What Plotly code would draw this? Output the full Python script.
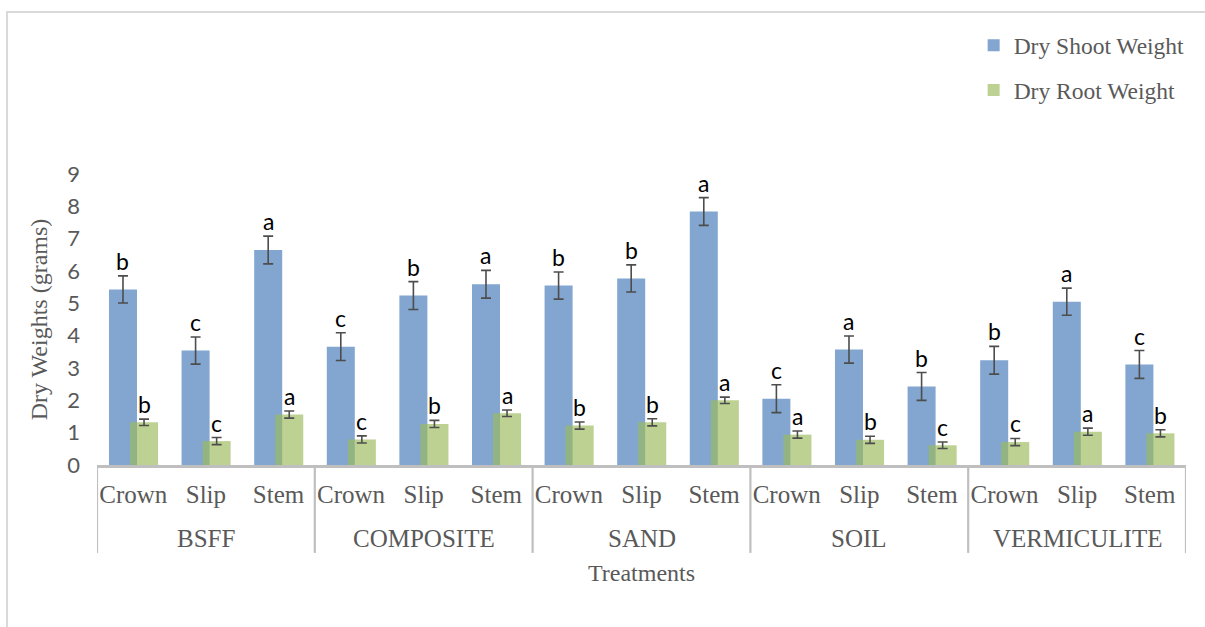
import plotly.graph_objects as go

# Treatment groups (media) and propagule types
media = ["BSFF", "COMPOSITE", "SAND", "SOIL", "VERMICULITE"]
types = ["Crown", "Slip", "Stem"]

# Mean dry weights (grams), in media x type order
shoot = [5.43, 3.54, 6.65,
         3.66, 5.24, 5.59,
         5.55, 5.77, 7.84,
         2.05, 3.57, 2.43,
         3.24, 5.05, 3.11]
root = [1.32, 0.74, 1.56,
        0.79, 1.27, 1.60,
        1.22, 1.32, 2.00,
        0.94, 0.78, 0.61,
        0.71, 1.03, 0.98]

# Error bar half-lengths
shoot_err = [0.42, 0.42, 0.43,
             0.43, 0.43, 0.43,
             0.42, 0.42, 0.43,
             0.43, 0.42, 0.43,
             0.43, 0.42, 0.43]
root_err = [0.10, 0.11, 0.11,
            0.11, 0.11, 0.10,
            0.11, 0.11, 0.10,
            0.11, 0.11, 0.10,
            0.11, 0.11, 0.11]

# Significance letters
shoot_letters = ["b", "c", "a", "c", "b", "a", "b", "b", "a", "c", "a", "b", "b", "a", "c"]
root_letters = ["b", "c", "a", "c", "b", "a", "b", "b", "a", "a", "b", "c", "c", "a", "b"]

x_inner = [t for _ in media for t in types]
pos = list(range(len(x_inner)))
n_types = len(types)

BLUE = "#82a6cf"
GREEN = "rgba(155,187,89,0.66)"
GREY_TXT = "#595959"
AXIS_GREY = "#bfbfbf"
SERIF = "Liberation Serif, Times New Roman, serif"
SANS = "Lato, Carlito, Calibri, sans-serif"

BAR_W = 0.386
OFF_SHOOT = -0.335
OFF_ROOT = -0.045

fig = go.Figure()
fig.add_trace(go.Bar(
    x=pos, y=shoot, name="Dry Shoot Weight",
    marker=dict(color=BLUE, line=dict(width=0)),
    offset=OFF_SHOOT, width=BAR_W, legendgroup="s",
    error_y=dict(type="data", array=shoot_err, color="#4d4d4d", thickness=1.6, width=5),
))
fig.add_trace(go.Bar(
    x=pos, y=root, name="Dry Root Weight",
    marker=dict(color=GREEN, line=dict(width=0)),
    offset=OFF_ROOT, width=BAR_W, legendgroup="r",
    error_y=dict(type="data", array=root_err, color="#4d4d4d", thickness=1.6, width=5),
))

annotations = []
# significance letters above the error bars
for i in pos:
    annotations.append(dict(
        x=i + OFF_SHOOT + BAR_W / 2, y=shoot[i] + shoot_err[i], xref="x", yref="y",
        text=shoot_letters[i], showarrow=False, yanchor="bottom", yshift=-1,
        font=dict(family=SANS, size=23, color="black"),
    ))
    annotations.append(dict(
        x=i + OFF_ROOT + BAR_W / 2, y=root[i] + root_err[i], xref="x", yref="y",
        text=root_letters[i], showarrow=False, yanchor="bottom", yshift=-1,
        font=dict(family=SANS, size=23, color="black"),
    ))

# group (medium) labels under the type labels
for g, m in enumerate(media):
    annotations.append(dict(
        x=g * n_types + (n_types - 1) / 2, y=-0.254, xref="x", yref="paper",
        text=m, showarrow=False, yanchor="middle",
        font=dict(family=SERIF, size=25, color=GREY_TXT),
    ))
annotations.append(dict(
    x=0.5, y=-0.371, xref="paper", yref="paper", text="Treatments",
    showarrow=False, yanchor="middle",
    font=dict(family=SERIF, size=24, color=GREY_TXT),
))

# group dividers below the axis
shapes = []
for g in range(len(media) + 1):
    xb = g * n_types - 0.5
    shapes.append(dict(type="line", xref="x", yref="paper", x0=xb, x1=xb,
                       y0=0, y1=-0.302, line=dict(color=AXIS_GREY, width=2.2)))
# chart-area border
shapes.append(dict(type="path", xref="paper", yref="paper",
                   path="M -0.0826,-0.60 L -0.0826,1.557 L 1.03,1.557",
                   line=dict(color="#d9d9d9", width=2)))

fig.update_layout(
    width=1205, height=627,
    margin=dict(l=97, r=19, t=174, b=162),
    paper_bgcolor="white", plot_bgcolor="white",
    font=dict(family=SERIF, color=GREY_TXT),
    barmode="overlay",
    showlegend=True,
    legend=dict(
        x=0.805, y=1.517, xanchor="left", yanchor="top",
        font=dict(family=SERIF, size=23.5, color=GREY_TXT),
        tracegroupgap=11, bgcolor="rgba(0,0,0,0)",
    ),
    annotations=annotations,
    shapes=shapes,
)

fig.update_xaxes(
    range=[-0.5, len(pos) - 0.5],
    tickvals=pos, ticktext=x_inner,
    showline=True, linecolor=AXIS_GREY, linewidth=2.5,
    ticks="", showgrid=False, zeroline=False, ticklabelstandoff=5,
    tickfont=dict(family=SERIF, size=25, color=GREY_TXT),
)
fig.update_yaxes(
    range=[0, 9], dtick=1, showgrid=False, showline=False, zeroline=False,
    ticks="", ticklabelstandoff=16,
    tickfont=dict(family=SANS, size=22, color=GREY_TXT),
    title=dict(text="Dry Weights (grams)", font=dict(family=SERIF, size=24, color=GREY_TXT), standoff=12),
)

fig.write_html("out.html")
